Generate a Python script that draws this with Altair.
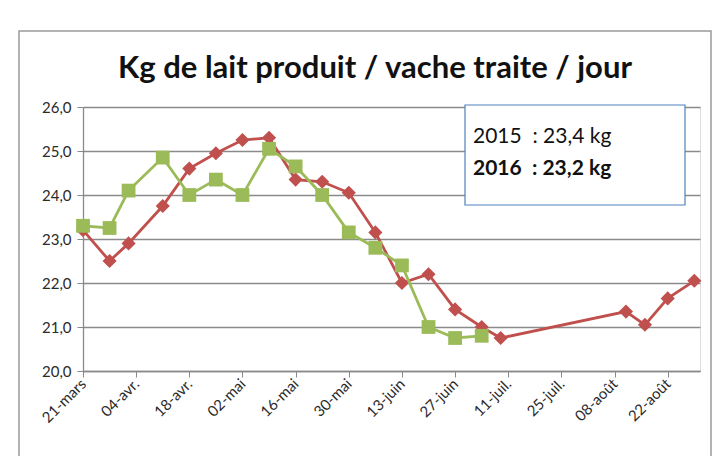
import altair as alt
import pandas as pd

ORIGIN = "2016-03-21"

# 2016 (green squares) - weekly measures
dates_2016 = ["2016-03-21", "2016-03-28", "2016-04-02", "2016-04-11", "2016-04-18",
              "2016-04-25", "2016-05-02", "2016-05-09", "2016-05-16", "2016-05-23",
              "2016-05-30", "2016-06-06", "2016-06-13", "2016-06-20", "2016-06-27",
              "2016-07-04"]
kg_2016 = [23.3, 23.25, 24.1, 24.85, 24.0, 24.35, 24.0, 25.05, 24.65, 24.0,
           23.15, 22.8, 22.4, 21.0, 20.75, 20.8]

# 2015 (red diamonds)
dates_2015 = ["2016-03-21", "2016-03-28", "2016-04-02", "2016-04-11", "2016-04-18",
              "2016-04-25", "2016-05-02", "2016-05-09", "2016-05-16", "2016-05-23",
              "2016-05-30", "2016-06-06", "2016-06-13", "2016-06-20", "2016-06-27",
              "2016-07-04", "2016-07-09", "2016-08-11", "2016-08-16", "2016-08-22",
              "2016-08-29"]
kg_2015 = [23.2, 22.5, 22.9, 23.75, 24.6, 24.95, 25.25, 25.3, 24.35, 24.3,
           24.05, 23.15, 22.0, 22.2, 21.4, 21.0, 20.75, 21.35, 21.05, 21.65,
           22.05]

tick_days = [0, 14, 28, 42, 56, 70, 84, 98, 112, 126, 140, 154]
tick_labels = ["21-mars", "04-avr.", "18-avr.", "02-mai", "16-mai", "30-mai",
               "13-juin", "27-juin", "11-juil.", "25-juil.", "08-août", "22-août"]
y_ticks = [20, 21, 22, 23, 24, 25, 26]

title_text = "Kg de lait produit / vache traite / jour"
note_2015 = "2015\u00a0\u00a0: 23,4 kg"
note_2016 = "2016\u00a0\u00a0: 23,2 kg"

RED = "#C0504D"
GREEN = "#9BBB59"
FONT = "Lato"


def frame(dates, vals):
    d = pd.to_datetime(pd.Series(dates))
    return pd.DataFrame({"jour": (d - pd.Timestamp(ORIGIN)).dt.days, "kg": vals})


df15 = frame(dates_2015, kg_2015)
df16 = frame(dates_2016, kg_2016)

label_array = "[" + ",".join("'" + t + "'" for t in tick_labels) + "]"

x_enc = alt.X(
    "jour:Q",
    scale=alt.Scale(domain=[0, 162.5], nice=False, zero=False),
    axis=alt.Axis(
        values=tick_days,
        labelExpr=label_array + "[round(datum.value / 14)]",
        labelAngle=-45,
        labelAlign="right",
        labelBaseline="middle",
        labelFont=FONT,
        labelFontSize=15,
        labelColor="#2a2a2a",
        labelPadding=4,
        tickSize=6,
        tickColor="#8a8a8a",
        domainColor="#8a8a8a",
        domainWidth=1.3,
        grid=False,
        title=None,
    ),
)
y_enc = alt.Y(
    "kg:Q",
    scale=alt.Scale(domain=[20, 26], nice=False, zero=False),
    axis=alt.Axis(
        values=y_ticks,
        labelExpr="replace(format(datum.value, '.1f'), '.', ',')",
        labelFont=FONT,
        labelFontSize=15,
        labelColor="#2a2a2a",
        labelPadding=6,
        tickSize=6,
        tickColor="#8a8a8a",
        domainColor="#8a8a8a",
        domainWidth=1.3,
        grid=True,
        gridColor="#8a8a8a",
        gridWidth=1.3,
        title=None,
    ),
)

base15 = alt.Chart(df15).encode(x=x_enc, y=y_enc)
base16 = alt.Chart(df16).encode(x=x_enc, y=y_enc)

line15 = base15.mark_line(color=RED, strokeWidth=2.8)
pts15 = base15.mark_point(shape="diamond", filled=True, color=RED, size=200, opacity=1)
line16 = base16.mark_line(color=GREEN, strokeWidth=2.8)
pts16 = base16.mark_point(shape="square", filled=True, color=GREEN, size=190, opacity=1)

note_df = pd.DataFrame({"t": [note_2015]})
box = alt.Chart(note_df).mark_rect(
    fill="white", stroke="#4F81BD", strokeWidth=1.2
).encode(x=alt.value(382), x2=alt.value(602), y=alt.value(-2), y2=alt.value(98))

txt15 = alt.Chart(pd.DataFrame({"t": [note_2015]})).mark_text(
    font=FONT, fontSize=21, align="left", baseline="alphabetic", color="#111"
).encode(x=alt.value(390), y=alt.value(36), text="t:N")
txt16 = alt.Chart(pd.DataFrame({"t": [note_2016]})).mark_text(
    font=FONT, fontSize=21, fontWeight="bold", align="left", baseline="alphabetic", color="#111"
).encode(x=alt.value(390), y=alt.value(68), text="t:N")

title_mark = alt.Chart(pd.DataFrame({"t": [title_text]})).mark_text(
    font=FONT, fontSize=31, fontWeight="bold", align="center", baseline="middle", color="#111"
).encode(x=alt.value(292), y=alt.value(-38), text="t:N")

chart_frame = alt.Chart(note_df).mark_rect(
    fill=None, stroke="#9a9a9a", strokeWidth=1.5
).encode(x=alt.value(-64), x2=alt.value(628), y=alt.value(-76), y2=alt.value(400))

chart = alt.layer(
    chart_frame, line15, pts15, line16, pts16, box, txt15, txt16, title_mark
).properties(
    width=617,
    height=264,
    autosize=alt.AutoSizeParams(type="none"),
    padding={"left": 75, "top": 99, "right": 13, "bottom": 85},
).configure_view(
    stroke=None
).configure(
    background="white"
)

chart.save("out.html", embed_options={"renderer": "svg", "actions": False})
